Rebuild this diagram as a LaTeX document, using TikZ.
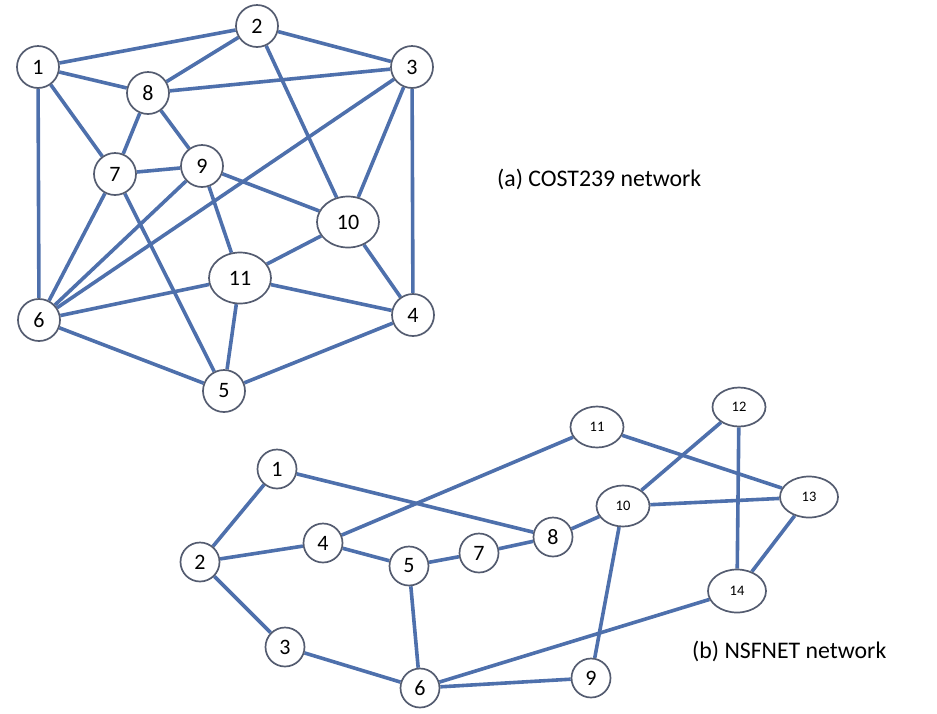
\documentclass[tikz,border=0pt]{standalone}
\usepackage{fontspec}
\setmainfont{Carlito}
\usetikzlibrary{shapes.geometric,backgrounds}

\definecolor{linkblue}{RGB}{78,112,172}
\definecolor{rimgrey}{RGB}{84,92,112}

\begin{document}
\begin{tikzpicture}[
  x=1pt,y=-1pt,
  site/.style={circle,draw=rimgrey,line width=1.7pt,fill=white,
               inner sep=0pt,minimum size=42pt,font=\fontsize{22}{24}\selectfont},
  bigsite/.style={site,ellipse,minimum width=62pt,minimum height=51pt},
  nsite/.style={site,minimum size=39pt},
  nbig/.style={site,ellipse,minimum width=53pt,minimum height=41pt,
               font=\fontsize{14.5}{16}\selectfont},
  link/.style={draw=linkblue,line width=3.6pt},
  caption/.style={font=\fontsize{23.8}{26}\selectfont,anchor=west,inner sep=0pt},
]
\useasboundingbox (0,0) rectangle (937,713);

% (a) COST239
\node[site] (a1) at (38,67) {1};
\node[site] (a2) at (257,26) {2};
\node[site] (a3) at (412,67) {3};
\node[site] (a4) at (413,315) {4};
\node[site] (a5) at (224,391) {5};
\node[site] (a6) at (39,320) {6};
\node[site] (a7) at (115,174) {7};
\node[site] (a8) at (148,93) {8};
\node[site] (a9) at (202,166) {9};
\node[bigsite] (a10) at (348,222) {10};
\node[bigsite] (a11) at (240,278) {11};

\node[caption] (capa) at (497,179) {(a) COST239 network};

\begin{scope}[on background layer]
  \foreach \u/\v in {1/2,1/8,1/7,1/6,2/8,2/3,2/10,3/8,3/6,3/10,3/4,
                     8/7,8/9,7/9,7/6,7/5,9/6,9/10,9/11,10/11,10/4,
                     11/6,11/4,11/5,6/5,5/4}
    \draw[link] (a\u) -- (a\v);
\end{scope}

% (b) NSFNET
\node[nsite] (b1) at (277,469) {1};
\node[nsite] (b2) at (200,562) {2};
\node[nsite] (b3) at (285,647) {3};
\node[nsite] (b4) at (323,543) {4};
\node[nsite] (b5) at (409,566) {5};
\node[nsite] (b6) at (420,688) {6};
\node[nsite] (b7) at (479,553) {7};
\node[nsite] (b8) at (553,537) {8};
\node[nsite] (b9) at (591,678) {9};
\node[nbig] (b10) at (623,506) {10};
\node[nbig] (b11) at (597,427) {11};
\node[nbig,minimum height=39pt] (b12) at (739,407) {12};
\node[nbig,minimum width=58pt] (b13) at (809,497) {13};
\node[nbig,minimum width=58pt,minimum height=43pt] (b14) at (737,591) {14};

\node[caption] (capb) at (692,651) {(b) NSFNET network};

\begin{scope}[on background layer]
  \foreach \u/\v in {1/2,1/8,2/4,2/3,3/6,4/5,4/11,5/7,5/6,7/8,8/10,
                     10/12,10/13,10/9,11/13,12/14,13/14,14/6,6/9}
    \draw[link] (b\u) -- (b\v);
\end{scope}

\end{tikzpicture}
\end{document}
